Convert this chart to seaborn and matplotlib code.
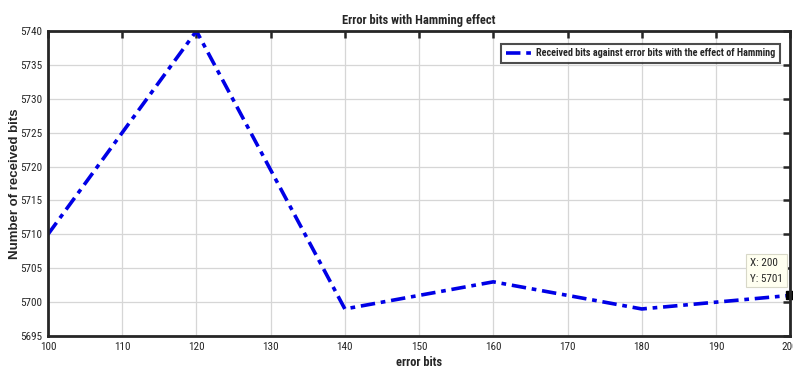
import numpy as np
import pandas as pd
import seaborn as sns
import matplotlib
matplotlib.use("Agg")
import matplotlib.pyplot as plt

# values
error_bits = [100, 120, 140, 160, 180, 200]
received_bits = [5710, 5740, 5699, 5703, 5699, 5701]
x_ticks = list(range(100, 201, 10))
y_ticks = list(range(5695, 5741, 5))
series_label = "Received bits against error bits with the effect of Hamming"

df = pd.DataFrame({"error bits": error_bits, "received": received_bits})

sns.set_style("white")
plt.rcParams["font.family"] = ["Liberation Sans Narrow", "Roboto Condensed",
                               "Liberation Sans", "DejaVu Sans"]

fig = plt.figure(figsize=(7.93, 3.73), dpi=100)
ax = fig.add_axes([0.0605, 0.099, 0.936, 0.818])

sns.lineplot(data=df, x="error bits", y="received", ax=ax, color="#0000e6",
             linewidth=2.6, label=series_label)
ax.lines[0].set_dashes([4, 1.6, 1.3, 1.6])

ax.set_xlim(100, 200)
ax.set_ylim(5695, 5740)
ax.set_xticks(x_ticks)
ax.set_yticks(y_ticks)
ax.grid(True, color="#d6d6d6", linewidth=0.9)
ax.set_axisbelow(True)
for s in ax.spines.values():
    s.set_color("#262626")
    s.set_linewidth(2.0)
    s.set_visible(True)
ax.tick_params(direction="in", length=5, width=1.8, color="#262626",
               top=True, right=True, labelsize=8, pad=4)

ax.set_title("Error bits with Hamming effect", fontsize=9, fontweight="bold", pad=5)
ax.set_xlabel("error bits", fontsize=9, fontweight="bold", labelpad=3)
ax.set_ylabel("Number of received bits", fontsize=9.5, fontweight="bold",
              family=["Liberation Sans", "DejaVu Sans"])
ax.yaxis.set_label_coords(-0.037, 0.5)

leg = ax.legend(loc="upper right", bbox_to_anchor=(0.993, 0.975),
                frameon=True, fancybox=False, handlelength=2.6, borderpad=0.45,
                handletextpad=0.4, prop={"weight": "bold", "size": 7.3})
leg.get_frame().set_edgecolor("#202020")
leg.get_frame().set_linewidth(1.5)

# data tip at the last point
ax.plot([error_bits[-1]], [received_bits[-1]], marker="s", color="black",
        markersize=6, clip_on=False)
ax.annotate(f"X: {error_bits[-1]}\nY: {received_bits[-1]}",
            xy=(error_bits[-1], received_bits[-1]), xytext=(-29, 10),
            textcoords="offset points", fontsize=8, linespacing=1.7,
            bbox=dict(boxstyle="square,pad=0.35", fc="#fffff0", ec="#d8d8c8", lw=0.8))

fig.savefig("out.png", dpi=100)
